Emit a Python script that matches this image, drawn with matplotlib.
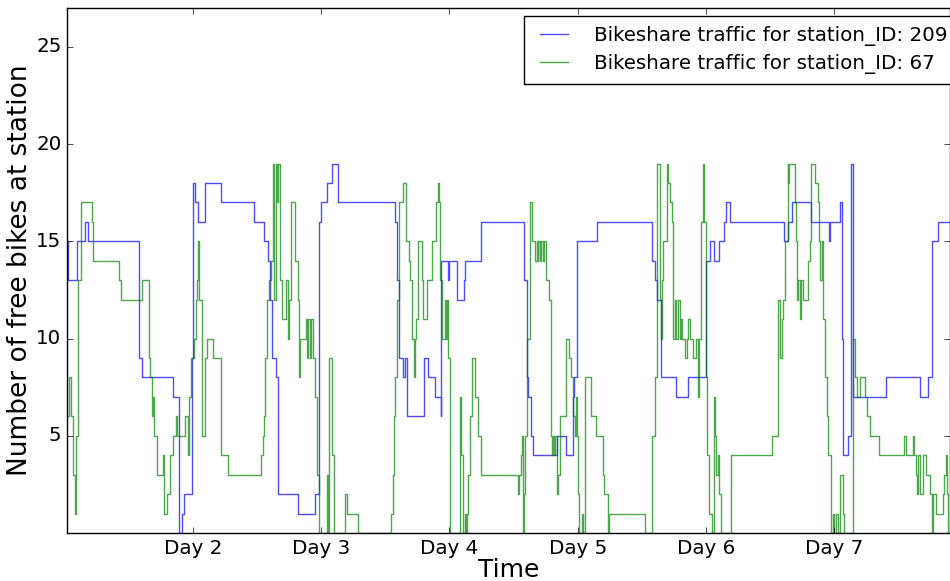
import matplotlib
matplotlib.use("Agg")
import matplotlib.pyplot as plt

# hours since start of day 1, free bikes (value holds until next time)
t_209 = [0.4, 0.6, 2.2, 3.8, 4.4, 13.9, 14.5, 20.2, 21.4, 21.9, 22.3, 23.8, 24.0,
         24.4, 24.9, 26.2, 29.2, 35.5, 37.3, 38.0, 38.4, 38.7, 39.5, 39.9, 43.6,
         46.8, 47.5, 48.0, 49.0, 50.0, 51.1, 61.8, 62.2, 62.6, 63.3, 63.6, 64.0,
         67.3, 67.9, 69.2, 70.4, 70.5, 71.8, 72.0, 73.4, 74.7, 75.0, 77.9, 86.0,
         86.5, 86.7, 87.2, 87.7, 92.1, 93.8, 95.2, 95.3, 95.9, 99.6, 110.0, 110.4,
         110.8, 111.6, 114.5, 116.6, 120.0, 120.8, 121.6, 122.4, 123.3, 123.8,
         124.5, 134.6, 135.3, 136.2, 139.7, 143.1, 143.2, 145.2, 145.5, 145.7,
         146.6, 147.2, 147.5, 153.7, 160.0, 161.6, 162.3, 163.5, 165.7]
n_209 = [15, 13, 15, 16, 15, 9, 8, 7, 0, 1, 2, 9, 18,
         17, 16, 18, 17, 16, 15, 14, 12, 9, 8, 2, 1,
         2, 16, 17, 18, 19, 17, 16, 13, 9, 8, 9, 6,
         9, 8, 7, 6, 14, 13, 14, 12, 13, 14, 16, 13,
         8, 7, 5, 4, 5, 4, 7, 8, 15, 16, 14, 13,
         12, 8, 7, 8, 14, 15, 14, 15, 16, 17,
         16, 15, 16, 17, 16, 15, 16, 17, 10, 4,
         5, 19, 7, 8, 7, 8, 15, 16, 16]

t_67 = [0.4, 0.8, 1.2, 1.6, 1.9, 2.1, 2.4, 2.5, 3.0, 5.1, 5.3, 10.1, 10.5, 14.4,
        15.8, 16.0, 16.3, 16.5, 16.7, 17.2, 18.4, 18.6, 19.1, 19.7, 20.2, 20.8,
        20.9, 22.5, 23.1, 23.2, 23.6, 24.2, 24.5, 24.7, 25.0, 25.2, 25.6, 26.2,
        26.7, 27.8, 29.2, 30.6, 36.7, 37.0, 37.3, 37.5, 37.8, 38.2, 38.6, 38.9,
        39.2, 39.5, 39.7, 39.9, 40.3, 40.6, 41.4, 41.7, 41.9, 42.3, 43.0, 43.7,
        43.9, 44.0, 45.2, 45.4, 45.6, 45.9, 46.1, 46.5, 46.8, 47.2, 47.6, 49.1,
        49.3, 49.5, 50.0, 50.3, 52.5, 52.9, 54.9, 61.0, 61.4, 61.6, 61.8, 62.1,
        62.6, 63.3, 63.8, 64.5, 64.7, 64.9, 65.4, 65.6, 65.7, 66.1, 66.8, 67.1,
        67.8, 68.7, 69.5, 69.8, 70.0, 70.2, 70.6, 71.2, 71.4, 71.5, 71.8, 72.1,
        74.0, 74.2, 74.5, 74.9, 75.1, 75.2, 75.5, 75.9, 76.3, 76.8, 77.4, 77.9,
        84.9, 85.0, 85.3, 85.6, 85.8, 86.0, 86.1, 86.5, 87.1, 87.4, 88.1, 88.3,
        88.5, 88.6, 89.0, 89.1, 89.6, 89.7, 90.0, 90.6, 91.0, 91.2, 91.4, 91.6,
        91.8, 92.1, 92.3, 92.7, 93.8, 94.4, 94.8, 95.1, 95.5, 95.7, 95.8, 96.0,
        96.3, 96.9, 97.0, 97.4, 98.5, 99.4, 100.8, 101.0, 101.6, 101.9, 108.6,
        109.9, 110.4, 110.5, 110.9, 111.4, 111.6, 111.8, 112.0, 112.7, 113.0,
        113.3, 113.6, 113.8, 113.9, 114.2, 114.5, 114.7, 115.2, 115.3, 115.5,
        116.1, 116.4, 116.7, 117.0, 117.6, 118.2, 118.5, 118.8, 119.1, 119.5,
        119.7, 120.0, 120.3, 120.6, 121.1, 121.5, 121.7, 121.9, 122.2, 122.5,
        122.8, 124.7, 132.3, 133.5, 133.9, 134.2, 134.5, 134.8, 135.3, 135.4,
        135.6, 136.7, 136.9, 137.1, 137.3, 137.6, 137.9, 138.2, 139.2, 139.5,
        139.7, 140.4, 140.9, 141.2, 141.4, 141.7, 142.0, 142.3, 142.7, 142.9,
        143.4, 143.8, 144.0, 144.4, 144.7, 145.2, 145.6, 145.9, 147.5, 147.9,
        148.2, 148.9, 149.8, 150.2, 150.7, 152.5, 157.1, 157.5, 158.8, 159.0,
        159.3, 159.5, 159.8, 160.1, 160.7, 161.3, 162.0, 162.3, 162.6, 163.0,
        164.3, 164.6, 165.0, 165.2, 165.4, 165.7]
n_67 = [6, 8, 6, 3, 1, 5, 10, 13, 17, 16, 14, 13, 12, 13,
        9, 8, 6, 7, 5, 3, 4, 1, 2, 4, 5, 6,
        5, 6, 4, 7, 9, 10, 12, 13, 15, 12, 5, 9,
        10, 9, 4, 3, 4, 5, 6, 9, 12, 13, 14, 19,
        12, 19, 17, 19, 13, 11, 13, 10, 12, 17, 14, 12,
        8, 10, 11, 9, 11, 9, 11, 9, 7, 3, 0, 3,
        0, 9, 4, 0, 2, 1, 0, 1, 3, 6, 8, 12,
        17, 18, 15, 14, 13, 10, 8, 10, 11, 15, 13, 11,
        13, 15, 17, 18, 17, 13, 10, 12, 10, 12, 9, 0,
        7, 4, 0, 1, 0, 1, 3, 6, 9, 7, 5, 3,
        2, 3, 4, 5, 0, 2, 5, 10, 17, 15, 14, 15,
        14, 15, 14, 15, 14, 15, 13, 12, 5, 4, 5, 4,
        5, 2, 3, 6, 10, 9, 8, 6, 5, 7, 5, 2,
        0, 1, 0, 8, 6, 5, 3, 2, 0, 1, 0,
        5, 7, 8, 19, 12, 10, 13, 15, 19, 18,
        17, 16, 15, 10, 12, 10, 12, 10, 11, 10,
        9, 10, 11, 10, 9, 10, 7, 10, 16, 19,
        16, 8, 4, 1, 0, 7, 5, 3, 4, 2,
        0, 4, 5, 12, 9, 11, 12, 15, 19, 18,
        19, 17, 15, 12, 13, 11, 13, 12, 14, 15,
        19, 18, 17, 15, 13, 15, 11, 8, 6, 4,
        0, 1, 0, 1, 0, 3, 1, 0, 10, 8,
        7, 8, 7, 6, 5, 4, 5, 4, 5, 4,
        3, 2, 4, 2, 4, 3, 2, 0, 2, 1,
        2, 3, 4, 2, 0, 0]

day_ticks = [24, 48, 72, 96, 120, 144]
day_labels = ['Day 2', 'Day 3', 'Day 4', 'Day 5', 'Day 6', 'Day 7']
y_ticks = [5, 10, 15, 20, 25]

plt.style.use('classic')
fig = plt.figure(figsize=(9.5, 5.81), dpi=100, facecolor='white')
ax = fig.add_axes([67/950, 48/581, 883/950, 525/581])

ax.plot(t_209, n_209, color='b', lw=1, alpha=0.7, drawstyle='steps-post',
        label='Bikeshare traffic for station_ID: 209')
ax.plot(t_67, n_67, color='g', lw=1, alpha=0.7, drawstyle='steps-post',
        label='Bikeshare traffic for station_ID: 67')

ax.set_xlim(0.4, 165.7)
ax.set_ylim(0, 27)
ax.set_xticks(day_ticks)
ax.set_xticklabels(day_labels)
ax.set_yticks(y_ticks)
ax.tick_params(labelsize=14.3)
ax.set_xlabel('Time', fontsize=18, labelpad=0)
ax.set_ylabel('Number of free bikes at station', fontsize=19, labelpad=2)

ax.legend(loc='upper left', bbox_to_anchor=(524/950, 1 - 16/581),
          bbox_transform=fig.transFigure, fontsize=14.3, handlelength=2.0,
          handletextpad=1.0, labelspacing=0.42, borderpad=0.5,
          borderaxespad=0, fancybox=False)

fig.savefig('out.png', dpi=100, facecolor='white')
